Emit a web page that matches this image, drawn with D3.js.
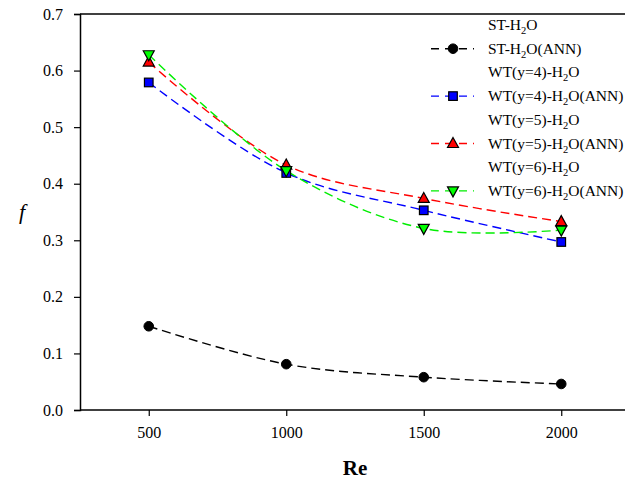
<!DOCTYPE html>
<html><head><meta charset="utf-8">
<script src="https://cdn.jsdelivr.net/npm/d3@7"></script>
<style>body{margin:0;background:#fff}svg{display:block}</style>
</head><body>
<svg id="c" width="625" height="479" style="font-family:'Liberation Serif','Times New Roman','DejaVu Serif',serif"></svg>
<script>
const reValues = [500, 1000, 1500, 2000];
const stAnn   = [0.148, 0.081, 0.058, 0.046];
const wt4Ann  = [0.579, 0.419, 0.353, 0.297];
const wt5Ann  = [0.615, 0.433, 0.374, 0.333];
const wt6Ann  = [0.628, 0.423, 0.321, 0.318];
const xTicks = [500, 1000, 1500, 2000];
const yTicks = [0, 0.1, 0.2, 0.3, 0.4, 0.5, 0.6, 0.7];
const legendLabels = [
  ["ST-H","2","O"], ["ST-H","2","O(ANN)"],
  ["WT(y=4)-H","2","O"], ["WT(y=4)-H","2","O(ANN)"],
  ["WT(y=5)-H","2","O"], ["WT(y=5)-H","2","O(ANN)"],
  ["WT(y=6)-H","2","O"], ["WT(y=6)-H","2","O(ANN)"]
];

const series = [
  {vals: stAnn, color: "#000", fill: "#000", sym: "circle", legendRow: 1},
  {vals: wt4Ann, color: "#0000ff", fill: "#0000ff", sym: "square", legendRow: 3},
  {vals: wt5Ann, color: "#ff0000", fill: "#ff0000", sym: "up", legendRow: 5},
  {vals: wt6Ann, color: "#00ee00", fill: "#00ff00", sym: "down", legendRow: 7}
];

const FONT = "'Liberation Serif','Times New Roman','DejaVu Serif',serif";
const svg = d3.select("#c");
const L = 80, R = 630, T = 14, B = 410;
const x = d3.scaleLinear().domain([250, 2250]).range([L, R]);
const y = d3.scaleLinear().domain([0, 0.7]).range([B, T]);

svg.append("line").attr("x1", L).attr("x2", 626).attr("y1", T).attr("y2", T).attr("stroke", "#000").attr("stroke-width", 1.5);

const gx = svg.append("g").attr("transform", `translate(0,${B})`)
  .call(d3.axisBottom(x).tickValues(xTicks).tickSize(6).tickPadding(11).tickFormat(d3.format("d")));
const gy = svg.append("g").attr("transform", `translate(${L},0)`)
  .call(d3.axisLeft(y).tickValues(yTicks).tickSize(6).tickPadding(11).tickFormat(d3.format(".1f")));
[gx, gy].forEach(g => {
  g.attr("font-family", FONT).attr("font-size", 16);
  g.select(".domain").attr("stroke", "#000").attr("stroke-width", 1.5);
  g.selectAll(".tick line").attr("stroke", "#000").attr("stroke-width", 1.2);
  g.selectAll("text").attr("fill", "#000");
});
gx.select(".domain").attr("d", `M${L},0H626`);

svg.append("text").attr("x", 355).attr("y", 475).attr("text-anchor", "middle").attr("font-family", FONT)
  .attr("font-size", 21).attr("font-weight", "bold").text("Re");
svg.append("text").attr("x", 22).attr("y", 219).attr("text-anchor", "middle").attr("font-family", FONT)
  .attr("font-size", 22).attr("font-style", "italic").text("f");

function drawSym(g, sym, cx, cy, fill) {
  if (sym === "circle") {
    g.append("circle").attr("cx", cx).attr("cy", cy).attr("r", 4.8).attr("fill", fill).attr("stroke", "#000").attr("stroke-width", 1);
  } else if (sym === "square") {
    g.append("rect").attr("x", cx - 4.3).attr("y", cy - 4.3).attr("width", 8.6).attr("height", 8.6).attr("fill", fill).attr("stroke", "#000").attr("stroke-width", 1.2);
  } else if (sym === "up") {
    g.append("path").attr("d", `M${cx},${cy - 6}L${cx + 5.5},${cy + 4}L${cx - 5.5},${cy + 4}Z`).attr("fill", fill).attr("stroke", "#000").attr("stroke-width", 1.2);
  } else {
    g.append("path").attr("d", `M${cx},${cy + 6}L${cx + 5.5},${cy - 4}L${cx - 5.5},${cy - 4}Z`).attr("fill", fill).attr("stroke", "#000").attr("stroke-width", 1.2);
  }
}

const line = d3.line().x((d, i) => x(reValues[i])).y(d => y(d)).curve(d3.curveCatmullRom.alpha(0.5));
series.forEach(s => {
  svg.append("path").attr("d", line(s.vals)).attr("fill", "none").attr("stroke", s.color)
    .attr("stroke-width", 1.4).attr("stroke-dasharray", "9,5");
});
series.forEach(s => {
  const g = svg.append("g");
  s.vals.forEach((v, i) => drawSym(g, s.sym, x(reValues[i]), y(v), s.fill));
});

const rowY = i => 25 + i * 23.7;
const lg = svg.append("g").attr("font-family", FONT);
legendLabels.forEach((lab, i) => {
  const t = lg.append("text").attr("x", 488).attr("y", rowY(i) + 5).attr("font-size", 15.5).attr("fill", "#000");
  t.append("tspan").text(lab[0]);
  t.append("tspan").attr("font-size", 10.5).attr("dy", 4).text(lab[1]);
  t.append("tspan").attr("dy", -4).text(lab[2]);
});
series.forEach(s => {
  const cy = rowY(s.legendRow);
  lg.append("line").attr("x1", 431).attr("x2", 474).attr("y1", cy).attr("y2", cy)
    .attr("stroke", s.color).attr("stroke-width", 1.4).attr("stroke-dasharray", "8,6");
  drawSym(lg, s.sym, 453, cy, s.fill);
});
</script>
</body></html>
